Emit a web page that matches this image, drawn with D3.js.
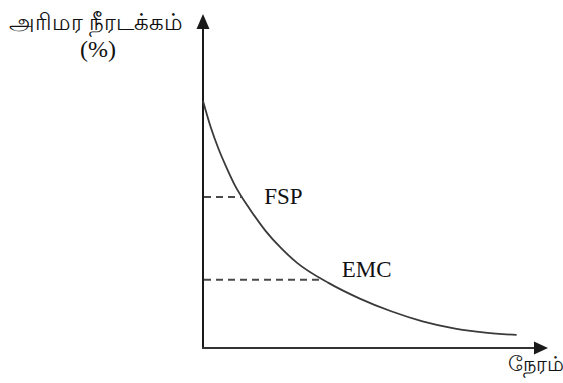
<!DOCTYPE html>
<html>
<head>
<meta charset="utf-8">
<script src="https://cdn.jsdelivr.net/npm/d3@7"></script>
<style>
  html, body { margin: 0; padding: 0; background: #fff; }
  svg { display: block; }
  text { font-family: "Liberation Serif", "Times New Roman", serif; fill: #111; }
</style>
</head>
<body>
<script>
// Drying curve: moisture content (%) against time
const timeValues = [0, 0.25, 0.5, 0.75, 1, 1.5, 2, 2.5, 3, 4, 5, 6, 7, 8, 9, 10];
const moistureValues = [74, 66, 59.5, 54, 49, 41.5, 35, 29.8, 25.5, 19.5, 14.8, 11, 8, 5.9, 4.6, 3.9];

// Reference levels marked on the curve
const levelNames = ["FSP", "EMC"];
const levelMoisture = [45.2, 20.4];
const levelTime = [1.25, 3.85];

const yAxisTitle = ["அரிமர நீரடக்கம்", "(%)"];
const xAxisTitle = "நேரம்";

const W = 563, H = 383;
const svg = d3.select("body").append("svg").attr("width", W).attr("height", H);

const x = d3.scaleLinear().domain([0, 11]).range([203, 548]);
const y = d3.scaleLinear().domain([0, 100]).range([348, 14]);

const axisColor = "#1a1a1a";

// Y axis with arrow head
svg.append("line")
  .attr("x1", x(0)).attr("x2", x(0))
  .attr("y1", y(0) + 1).attr("y2", y(100) + 12)
  .attr("stroke", axisColor).attr("stroke-width", 2);
svg.append("path")
  .attr("d", `M${x(0)},${y(100)} L${x(0) - 6.5},${y(100) + 15} L${x(0) + 6.5},${y(100) + 15} Z`)
  .attr("fill", axisColor);

// X axis with arrow head
svg.append("line")
  .attr("x1", x(0) - 1).attr("x2", x(11) - 12)
  .attr("y1", y(0)).attr("y2", y(0))
  .attr("stroke", "#333").attr("stroke-width", 2);
svg.append("path")
  .attr("d", `M${x(11)},${y(0)} L${x(11) - 14},${y(0) - 6.5} L${x(11) - 14},${y(0) + 6.5} Z`)
  .attr("fill", axisColor);

// Drying curve
const pts = timeValues.map((t, i) => [t, moistureValues[i]]);
svg.append("path")
  .datum(pts)
  .attr("d", d3.line().x(d => x(d[0])).y(d => y(d[1])).curve(d3.curveMonotoneX))
  .attr("fill", "none")
  .attr("stroke", "#3a3a3a")
  .attr("stroke-width", 1.8);

// Dashed level lines and their labels
const labelOffsets = [[22, 7], [18, -3]];
levelNames.forEach((name, i) => {
  svg.append("line")
    .attr("x1", x(0) + 1).attr("x2", x(levelTime[i]))
    .attr("y1", y(levelMoisture[i])).attr("y2", y(levelMoisture[i]))
    .attr("stroke", "#4a4a4a").attr("stroke-width", 2)
    .attr("stroke-dasharray", "7,5");
  svg.append("text")
    .attr("x", x(levelTime[i]) + labelOffsets[i][0])
    .attr("y", y(levelMoisture[i]) + labelOffsets[i][1])
    .attr("font-size", 23)
    .text(name);
});

// Axis titles
svg.append("text")
  .attr("x", 96).attr("y", 30)
  .attr("text-anchor", "middle")
  .attr("font-size", 22.5)
  .text(yAxisTitle[0]);
svg.append("text")
  .attr("x", 98).attr("y", 57)
  .attr("text-anchor", "middle")
  .attr("font-size", 24)
  .text(yAxisTitle[1]);
svg.append("text")
  .attr("x", 536).attr("y", 371)
  .attr("text-anchor", "middle")
  .attr("font-size", 21)
  .text(xAxisTitle);
</script>
</body>
</html>
